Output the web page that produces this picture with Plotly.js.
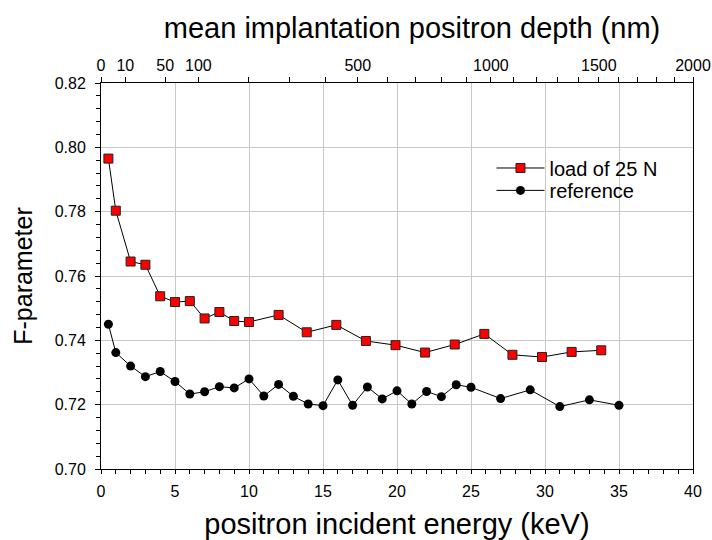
<!DOCTYPE html>
<html>
<head>
<meta charset="utf-8">
<script src="https://cdn.plot.ly/plotly-3.0.1.min.js"></script>
<style>html,body{margin:0;padding:0;background:#fff;}#chart{width:712px;height:540px;}</style>
</head>
<body>
<div id="chart"></div>
<script>
// Series: load of 25 N (squares)
var loadEnergy = [0.5, 1, 2, 3, 4, 5, 6, 7, 8, 9, 10, 12, 13.9, 15.9, 17.9, 19.9, 21.9, 23.9, 25.9, 27.8, 29.8, 31.8, 33.8];
var loadF = [0.7965, 0.7803, 0.7645, 0.7635, 0.7537, 0.7519, 0.7522, 0.7468, 0.7488, 0.7460, 0.7457, 0.7479, 0.7425, 0.7448, 0.7398, 0.7385, 0.7362, 0.7387, 0.7420, 0.7355, 0.7348, 0.7364, 0.7369];

// Series: reference (circles)
var refEnergy = [0.5, 1, 2, 3, 4, 5, 6, 7, 8, 9, 10, 11, 12, 13, 14, 15, 16, 17, 18, 19, 20, 21, 22, 23, 24, 25, 27, 29, 31, 33, 35];
var refF = [0.7450, 0.7362, 0.7320, 0.7287, 0.7303, 0.7272, 0.7233, 0.7240, 0.7256, 0.7252, 0.7280, 0.7227, 0.7263, 0.7226, 0.7202, 0.7197, 0.7277, 0.7198, 0.7255, 0.7218, 0.7243, 0.7202, 0.7241, 0.7225, 0.7262, 0.7254, 0.7219, 0.7246, 0.7194, 0.7215, 0.7198];

// Top axis: mean implantation depth (nm)
var depthTicks = [0, 10, 50, 100, 200, 300, 400, 500, 600, 700, 800, 900, 1000, 1100, 1200, 1300, 1400, 1500, 1600, 1700, 1800, 1900, 2000];
var depthLabelled = [0, 10, 50, 100, 500, 1000, 1500, 2000];

// depth z = A * E^N  ->  E = (z/A)^(1/N); 2000 nm sits at 40 keV
var E_MAX = 40, N = 1.66;
var A = 2000 / Math.pow(E_MAX, N);
function energyOfDepth(z) { return z <= 0 ? 0 : Math.min(E_MAX, Math.pow(z / A, 1 / N)); }
var topTickVals = depthTicks.map(energyOfDepth);
var topTickText = depthTicks.map(function (d) { return depthLabelled.indexOf(d) >= 0 ? String(d) : ''; });

var FONT = 'Arial, "Liberation Sans", Helvetica, sans-serif';

var traces = [
  {
    x: loadEnergy, y: loadF, type: 'scatter', mode: 'lines+markers',
    name: 'load of 25 N', legend: 'legend',
    line: {color: '#000000', width: 1},
    marker: {symbol: 'square', size: 9, color: '#ff0000', line: {color: '#222222', width: 1}}
  },
  {
    x: refEnergy, y: refF, type: 'scatter', mode: 'lines+markers',
    name: 'reference', legend: 'legend2',
    line: {color: '#000000', width: 1},
    marker: {symbol: 'circle', size: 9, color: '#000000'}
  },
  {
    // empty helper trace so the top (depth) axis is drawn
    x: [], y: [], type: 'scatter', mode: 'markers',
    xaxis: 'x2', yaxis: 'y', showlegend: false, hoverinfo: 'skip'
  }
];

var gridC = '#c8c8c8';

var layout = {
  width: 712, height: 540,
  paper_bgcolor: '#ffffff', plot_bgcolor: '#ffffff',
  margin: {l: 101, r: 19, t: 83, b: 71, pad: 0},
  font: {family: FONT, color: '#000000', size: 16},
  showlegend: true,
  title: {
    text: 'mean implantation positron depth (nm)',
    font: {family: FONT, size: 29, color: '#000'},
    xref: 'container', x: 0.5787, xanchor: 'center',
    yref: 'container', y: 0.948, yanchor: 'middle'
  },
  xaxis: {
    range: [0, 40], tick0: 0, dtick: 5,
    ticks: 'outside', ticklen: 4, tickwidth: 1, tickcolor: '#000',
    showline: true, linecolor: '#000', linewidth: 1,
    showgrid: true, gridcolor: gridC, gridwidth: 1, zeroline: false,
    minor: {dtick: 1, ticks: 'outside', ticklen: 4, tickcolor: '#000', showgrid: false},
    tickfont: {family: FONT, size: 16, color: '#000'},
    ticklabelstandoff: 4,
    title: {text: 'positron incident energy (keV)', font: {family: FONT, size: 29, color: '#000'}, standoff: 15}
  },
  xaxis2: {
    overlaying: 'x', side: 'top', anchor: 'y',
    range: [0, 40],
    tickmode: 'array', tickvals: topTickVals, ticktext: topTickText,
    ticks: 'outside', ticklen: 5, tickwidth: 1, tickcolor: '#000',
    showline: true, linecolor: '#000', linewidth: 1,
    showgrid: false, zeroline: false,
    tickfont: {family: FONT, size: 16, color: '#000'}
  },
  yaxis: {
    range: [0.70, 0.82], tick0: 0.70, dtick: 0.02, tickformat: '.2f',
    ticks: 'outside', ticklen: 5, tickwidth: 1, tickcolor: '#000',
    showline: true, mirror: true, linecolor: '#000', linewidth: 1,
    showgrid: true, gridcolor: gridC, gridwidth: 1, zeroline: false,
    minor: {dtick: 0.004, ticks: 'outside', ticklen: 4, tickcolor: '#000', showgrid: false},
    tickfont: {family: FONT, size: 16, color: '#000'},
    ticklabelstandoff: 6,
    title: {text: 'F-parameter', font: {family: FONT, size: 25, color: '#000'}, standoff: 14}
  },
  legend: {
    x: 0.6596, xanchor: 'left', y: 0.7798, yanchor: 'middle',
    bgcolor: 'rgba(0,0,0,0)', borderwidth: 0, itemwidth: 48,
    font: {family: FONT, size: 20, color: '#000'}
  },
  legend2: {
    x: 0.6596, xanchor: 'left', y: 0.7218, yanchor: 'middle',
    bgcolor: 'rgba(0,0,0,0)', borderwidth: 0, itemwidth: 48,
    font: {family: FONT, size: 20, color: '#000'}
  }
};

Plotly.newPlot('chart', traces, layout, {displayModeBar: false, staticPlot: true});
</script>
</body>
</html>
